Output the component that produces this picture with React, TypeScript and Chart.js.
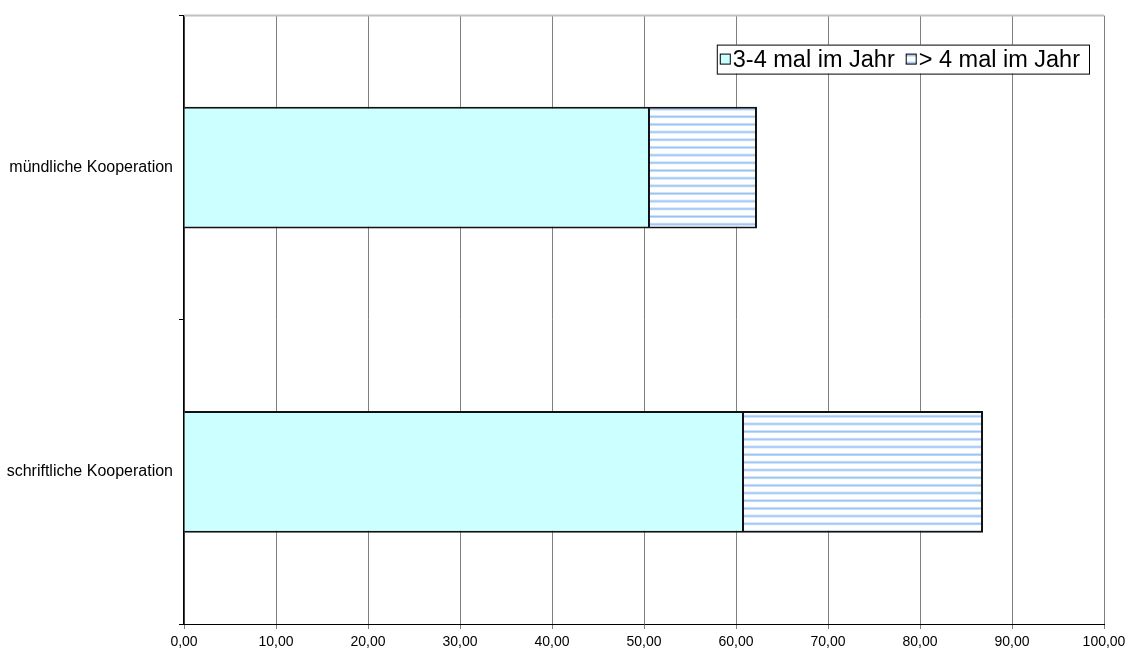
import React, { useEffect, useRef } from "react";
import { Chart, registerables } from "chart.js";

Chart.register(...registerables);

const categories = ["mündliche Kooperation", "schriftliche Kooperation"];
const seriesNames = ["3-4 mal im Jahr", "> 4 mal im Jahr"];
const series34 = [50.65, 60.87];
const seriesOver4 = [11.63, 25.98];
const xTicks = [0, 10, 20, 30, 40, 50, 60, 70, 80, 90, 100];

const FONT = "'Liberation Sans', Arial, sans-serif";

function makePattern(): CanvasPattern | string {
  const c = document.createElement("canvas");
  c.width = 4;
  c.height = 8;
  const g = c.getContext("2d")!;
  g.fillStyle = "#ffffff";
  g.fillRect(0, 0, 4, 8);
  g.fillStyle = "#cde2fa";
  g.fillRect(0, 0, 4, 1);
  g.fillStyle = "#96c3f4";
  g.fillRect(0, 1, 4, 1);
  g.fillStyle = "#bcd8f8";
  g.fillRect(0, 2, 4, 1);
  const ctx = document.createElement("canvas").getContext("2d")!;
  const p = ctx.createPattern(c, "repeat");
  if (!p) return "#cfe3fb";
  try {
    p.setTransform(new DOMMatrix().scale(1, 0.96));
  } catch (e) {}
  return p;
}

export default function App() {
  const ref = useRef<HTMLCanvasElement | null>(null);

  useEffect(() => {
    document.body.style.margin = "0";
    const pattern = makePattern();
    const fills: any[] = ["#ccffff", pattern];

    const legendPlugin = {
      id: "boxLegend",
      afterDraw(chart: any) {
        const ctx = chart.ctx;
        const area = chart.chartArea;
        ctx.save();
        ctx.font = `23.5px ${FONT}`;
        const marker = 11;
        const gapM = 2;
        const gapItem = 11;
        const padL = 3;
        const padR = 9;
        let w = padL + padR;
        seriesNames.forEach((n, i) => {
          w += marker + gapM + ctx.measureText(n).width;
          if (i < seriesNames.length - 1) w += gapItem;
        });
        const h = 29;
        const right = area.right - 15;
        const top = area.top + 29;
        const left = right - w;
        ctx.fillStyle = "#fff";
        ctx.fillRect(left, top, w, h);
        ctx.strokeStyle = "#000";
        ctx.lineWidth = 1;
        ctx.strokeRect(left + 0.5, top + 0.5, w, h);
        let x = left + padL;
        const cy = top + h / 2;
        seriesNames.forEach((n, i) => {
          ctx.fillStyle = fills[i];
          ctx.fillRect(x, cy - marker / 2, marker, marker);
          ctx.strokeStyle = "#000";
          ctx.lineWidth = 1;
          ctx.strokeRect(x + 0.5, cy - marker / 2 + 0.5, marker - 1, marker - 1);
          x += marker + gapM;
          ctx.fillStyle = "#000";
          ctx.textBaseline = "middle";
          ctx.textAlign = "left";
          ctx.fillText(n, x, cy + 1);
          x += ctx.measureText(n).width + gapItem;
        });
        ctx.restore();
      },
    };

    const topBorder = {
      id: "topBorder",
      beforeDatasetsDraw(chart: any) {
        const { ctx, chartArea } = chart;
        ctx.save();
        ctx.strokeStyle = "#c0c0c0";
        ctx.lineWidth = 2;
        ctx.beginPath();
        ctx.moveTo(chartArea.left, chartArea.top);
        ctx.lineTo(chartArea.right, chartArea.top);
        ctx.stroke();
        ctx.restore();
      },
    };

    const chart = new Chart(ref.current!, {
      type: "bar",
      data: {
        labels: categories,
        datasets: [
          {
            label: seriesNames[0],
            data: series34,
            backgroundColor: fills[0],
            borderColor: "#111",
            borderWidth: 2,
            barPercentage: 0.4,
            categoryPercentage: 1,
          },
          {
            label: seriesNames[1],
            data: seriesOver4,
            backgroundColor: fills[1],
            borderColor: "#111",
            borderWidth: 2,
            barPercentage: 0.4,
            categoryPercentage: 1,
          },
        ],
      },
      options: {
        indexAxis: "y",
        animation: false,
        responsive: false,
        devicePixelRatio: 1,
        layout: { padding: { top: 15, right: 25, left: 0, bottom: 0 } },
        plugins: {
          legend: { display: false },
          tooltip: { enabled: false },
        },
        scales: {
          x: {
            stacked: true,
            min: 0,
            max: 100,
            afterBuildTicks(axis: any) {
              axis.ticks = xTicks.map((v) => ({ value: v }));
            },
            afterFit(axis: any) {
              axis.height = 31;
              axis.paddingRight = 0;
              axis.paddingLeft = 0;
            },
            grid: {
              color: "#808080",
              lineWidth: 1,
              tickLength: 5,
              drawTicks: true,
            },
            border: { color: "#000", width: 1 },
            ticks: {
              color: "#000",
              padding: 5,
              maxRotation: 0,
              font: { family: FONT, size: 14 },
              callback: (v: any) => Number(v).toFixed(2).replace(".", ","),
            },
          },
          y: {
            stacked: true,
            afterFit(axis: any) {
              axis.width = 184;
            },
            grid: {
              drawOnChartArea: false,
              drawTicks: true,
              tickLength: 5,
              offset: true,
              color: "#000",
            },
            border: { color: "#000", width: 1.5 },
            ticks: {
              color: "#000",
              padding: 6,
              font: { family: FONT, size: 16 },
            },
          },
        },
      },
      plugins: [topBorder, legendPlugin],
    });
    return () => chart.destroy();
  }, []);

  return (
    <div style={{ position: "absolute", left: 0, top: 0, width: 1129, height: 655, background: "#fff" }}>
      <canvas ref={ref} width={1129} height={655} style={{ width: 1129, height: 655 }} />
    </div>
  );
}
